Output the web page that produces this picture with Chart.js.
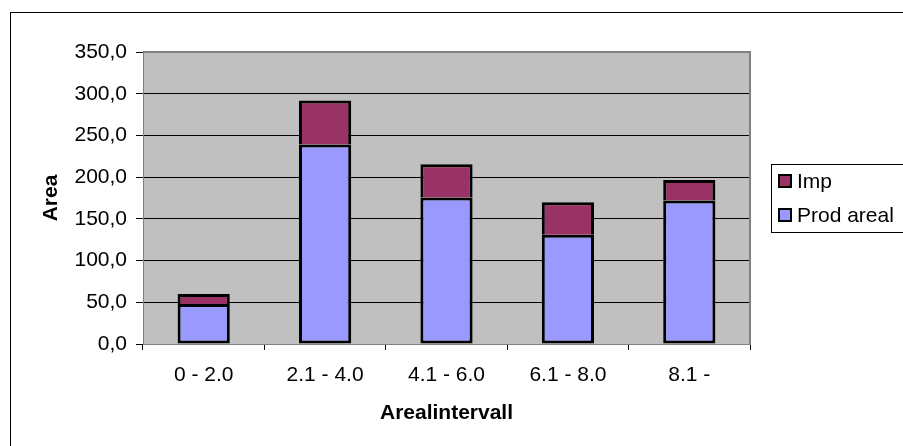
<!DOCTYPE html>
<html>
<head>
<meta charset="utf-8">
<script src="https://cdn.jsdelivr.net/npm/chart.js@4.4.1/dist/chart.umd.min.js"></script>
<style>
    html, body { margin: 0; padding: 0; background: #fff; }
    #wrap { width: 903px; height: 446px; }
</style>
</head>
<body>
<div id="wrap"><canvas id="chart" width="903" height="446"></canvas></div>
<script>
// Data
const categories = ['0 - 2.0', '2.1 - 4.0', '4.1 - 6.0', '6.1 - 8.0', '8.1 -'];
const prodAreal = [48, 239, 175.5, 131, 172];
const imp = [12, 53, 40, 39, 24.5];
const yMin = 0;
const yMax = 350;
const yStep = 50;

const FONT = "'Liberation Sans', Arial, sans-serif";

// Grey plot area, frame, outer border and legend drawn like the old Excel chart
const excelLook = {
    id: 'excelLook',
    beforeDraw(chart) {
        const { ctx, chartArea: a } = chart;
        ctx.save();
        ctx.fillStyle = '#fff';
        ctx.fillRect(0, 0, chart.width, chart.height);
        ctx.fillStyle = '#C0C0C0';
        ctx.fillRect(a.left, a.top, a.right - a.left, a.bottom - a.top);
        ctx.restore();
    },
    afterDraw(chart) {
        const { ctx, chartArea: a } = chart;
        ctx.save();
        // plot frame top + right
        ctx.strokeStyle = '#808080';
        ctx.lineWidth = 2;
        ctx.beginPath();
        ctx.moveTo(Math.round(a.left), Math.round(a.top));
        ctx.lineTo(Math.round(a.right), Math.round(a.top));
        ctx.lineTo(Math.round(a.right), Math.round(a.bottom));
        ctx.stroke();

        // outer chart border (runs off the picture right and bottom)
        ctx.lineWidth = 1;
        ctx.strokeStyle = '#000';
        ctx.strokeRect(10.5, 12.5, 1000, 1000);

        // legend box
        ctx.strokeRect(771.5, 164.5, 200, 68);
        ctx.font = '21px ' + FONT;
        ctx.textBaseline = 'middle';
        ctx.textAlign = 'left';
        const items = chart.data.datasets.slice().reverse();
        items.forEach((ds, i) => {
            const cy = 181 + i * 34;
            ctx.fillStyle = ds.backgroundColor;
            ctx.fillRect(779, cy - 6, 12, 12);
            ctx.lineWidth = 2;
            ctx.strokeStyle = '#000';
            ctx.strokeRect(779, cy - 6, 12, 12);
            ctx.fillStyle = '#000';
            ctx.fillText(ds.label, 797, cy + 1);
        });
        ctx.restore();
    }
};

const ctx = document.getElementById('chart').getContext('2d');
new Chart(ctx, {
    type: 'bar',
    data: {
        labels: categories,
        datasets: [
            {
                label: 'Prod areal',
                data: prodAreal,
                backgroundColor: '#9999FF',
                borderColor: '#000',
                borderWidth: 3,
                borderSkipped: false,
                barPercentage: 0.43,
                categoryPercentage: 1
            },
            {
                label: 'Imp',
                data: imp,
                backgroundColor: '#993366',
                borderColor: '#000',
                borderWidth: 3,
                borderSkipped: 'bottom',
                barPercentage: 0.43,
                categoryPercentage: 1
            }
        ]
    },
    options: {
        responsive: false,
        animation: false,
        layout: { padding: { top: 52, right: 153, left: 0, bottom: 0 } },
        plugins: {
            legend: { display: false },
            tooltip: { enabled: false }
        },
        scales: {
            x: {
                stacked: true,
                afterFit: (s) => { s.height = 102; },
                grid: {
                    offset: true,
                    drawOnChartArea: false,
                    tickLength: 6,
                    tickColor: '#000'
                },
                border: { color: '#808080', width: 1 },
                ticks: {
                    color: '#000',
                    padding: 13,
                    font: { family: FONT, size: 21 }
                },
                title: {
                    display: true,
                    text: 'Arealintervall',
                    color: '#000',
                    font: { family: FONT, size: 21, weight: 'bold' },
                    padding: { top: 0, bottom: 20 }
                }
            },
            y: {
                stacked: true,
                min: yMin,
                max: yMax,
                afterFit: (s) => { s.width = 143; },
                grid: {
                    color: (c) => (c.tick && c.tick.value === yMax ? '#808080' : '#000'),
                    tickColor: '#000',
                    tickLength: 7
                },
                border: { color: '#808080', width: 1 },
                ticks: {
                    stepSize: yStep,
                    color: '#000',
                    padding: 9,
                    font: { family: FONT, size: 21 },
                    callback: (v) => v.toFixed(1).replace('.', ',')
                },
                title: {
                    display: true,
                    text: 'Area',
                    color: '#000',
                    font: { family: FONT, size: 21, weight: 'bold' },
                    padding: { top: 39, bottom: 0 }
                }
            }
        }
    },
    plugins: [excelLook]
});
</script>
</body>
</html>
